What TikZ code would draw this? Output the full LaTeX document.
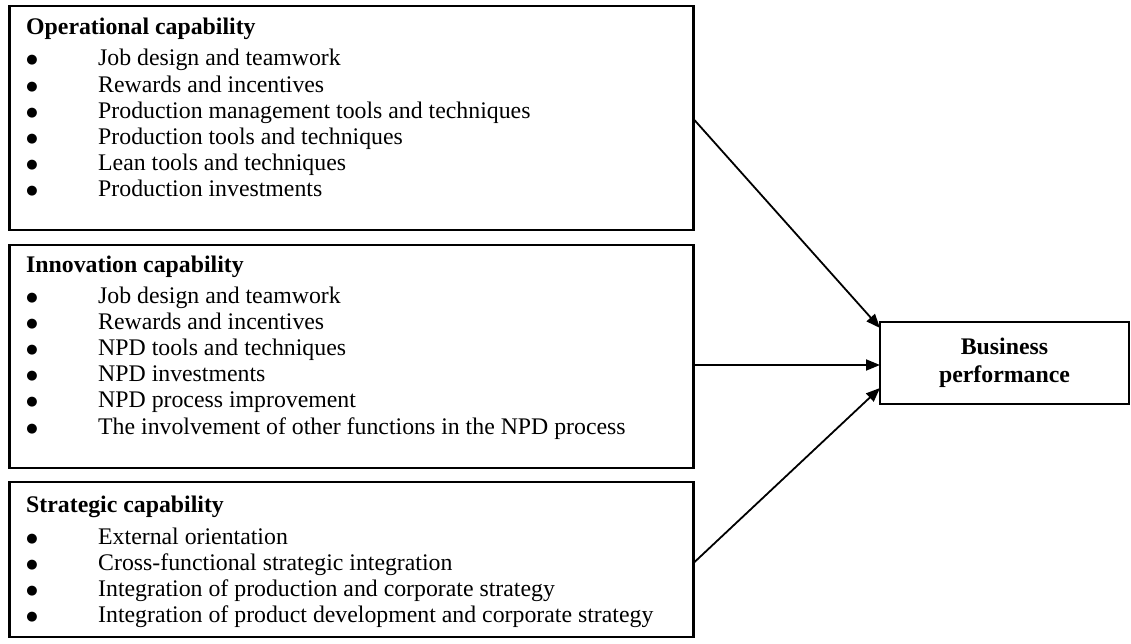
\documentclass[tikz,border=0pt]{standalone}
\usepackage{fontspec}
\setmainfont{Liberation Serif}
\newfontfamily\dotfont{DejaVu Sans}
\usetikzlibrary{arrows.meta,calc}
\begin{document}
\begin{tikzpicture}[x=1pt,y=-1pt,
  capbox/.style={draw=black,line width=2.3pt,inner sep=0pt,outer sep=0pt,anchor=north west},
  ttl/.style={anchor=base west,inner sep=0pt,font=\fontsize{23.8}{26.2}\selectfont\bfseries},
  itm/.style={anchor=base west,inner sep=0pt,font=\fontsize{23.8}{26.2}\selectfont},
  bul/.style={anchor=base,inner sep=0pt,font=\dotfont\fontsize{13}{13}\selectfont},
  arr/.style={line width=1.8pt,-{Triangle[length=14pt,width=11pt]}}]
\useasboundingbox (0,0) rectangle (1131,644);
% boxes
\node[capbox,minimum width=684pt,minimum height=224pt] (op) at (9.5,6) {};
\node[capbox,minimum width=684pt,minimum height=223pt] (in) at (9.5,245) {};
\node[capbox,minimum width=684pt,minimum height=155pt] (st) at (9.5,482) {};
\node[capbox,minimum width=249pt,minimum height=82pt] (bp) at (880,322) {};
% titles
\node[ttl] (opt) at (26,35) {Operational capability};
\node[ttl] (int) at (26,272) {Innovation capability};
\node[ttl] (stt) at (26,512) {Strategic capability};
% items
\foreach \t [count=\i] in {Job design and teamwork,Rewards and incentives,Production management tools and techniques,Production tools and techniques,Lean tools and techniques,Production investments}{
  \node[bul] (opb\i) at (32,{64+26.2*(\i-1)}) {●};
  \node[itm] (opi\i) at (98,{66+26.2*(\i-1)}) {\t};
}
\foreach \t [count=\i] in {Job design and teamwork,Rewards and incentives,NPD tools and techniques,NPD investments,NPD process improvement,The involvement of other functions in the NPD process}{
  \node[bul] (inb\i) at (32,{301+26.2*(\i-1)}) {●};
  \node[itm] (ini\i) at (98,{303+26.2*(\i-1)}) {\t};
}
\foreach \t [count=\i] in {External orientation,Cross-functional strategic integration,Integration of production and corporate strategy,Integration of product development and corporate strategy}{
  \node[bul] (stb\i) at (32,{542+26.2*(\i-1)}) {●};
  \node[itm] (sti\i) at (98,{544+26.2*(\i-1)}) {\t};
}
% business performance
\node[align=center,inner sep=0pt,font=\fontsize{23.8}{28.5}\selectfont\bfseries] (bpt) at (bp.center) {Business\\performance};
% arrows
\draw[arr] ($(op.north east)+(0,113)$) -- ($(bp.north west)+(0,6)$);
\draw[arr] ($(in.north east)+(0,120)$) -- ($(bp.north west)+(0,43)$);
\draw[arr] ($(st.north east)+(0,81)$) -- ($(bp.north west)+(0,66)$);
\end{tikzpicture}
\end{document}
